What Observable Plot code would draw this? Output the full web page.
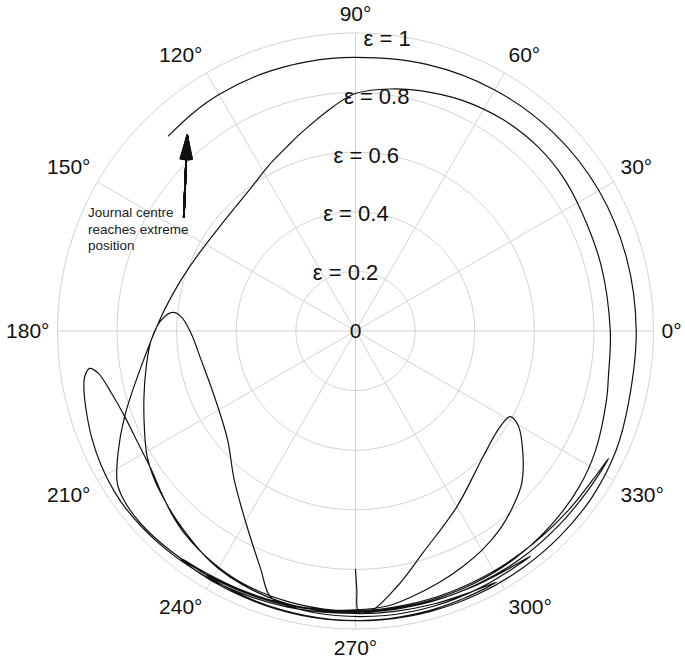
<!DOCTYPE html>
<html>
<head>
<meta charset="utf-8">
<script src="https://cdn.jsdelivr.net/npm/d3@7"></script>
<script src="https://cdn.jsdelivr.net/npm/@observablehq/plot@0.6"></script>
<style>
  html, body { margin: 0; padding: 0; background: #fff; }
  #chart svg { display: block; }
</style>
</head>
<body>
<div id="chart"></div>
<script>
// ---- Data ----
// Journal centre orbit: attitude angle (degrees) and eccentricity ratio
const orbitTheta = [
  270, 270.3, 270.6,
  273.1, 279.3, 287.0, 300.1, 315.4, 326.5, 331.0, 330.0, 326.2, 317.7, 311.9, 306.1, 300.3, 294.6, 288.6, 282.3, 276.6,
  270, 262, 254, 246, 238, 232.4,
  236, 244, 254, 264, 274, 284, 292, 299.4,
  294, 286, 278, 270, 262, 254, 246, 240, 235.3,
  230.0, 226.4, 223.0, 216.5, 211.0, 205.1, 197.2, 189.6, 182.5, 176.8, 174.2, 175.3, 180.8, 190.6, 204.9, 220.3, 230.9, 241.5, 248.3, 252.3,
  258, 266, 276, 286, 296, 303, 307.9,
  302, 294, 286, 276, 266, 256, 246, 236, 226, 218.2,
  213.5, 207.7, 202.1, 196.8, 192.1, 189.5, 188.0, 189.3, 194.3, 200.3, 207.2, 214.1, 219.8, 224.6, 230.0, 238.0, 246.0,
  256, 266, 276, 286, 296, 306, 316, 326, 333.3,
  328, 320, 310, 300, 290, 280, 270, 260, 250, 240, 230, 222, 216,
  212.5, 207.2, 200.3, 189.4, 176.3, 165.7, 158, 151.2, 142, 133.5, 125, 117.7, 110, 104.4, 95.5, 90, 82, 75, 65, 55, 45, 36.5, 28, 15, 0,
  -10, -15.6, -26.6, -35, -45, -55, -65, -75, -85, -95, -105, -115, -121.6,
  -115, -105, -95, -85, -75, -65, -55, -45, -35, -24.6, -14.4,
  0, 15, 30, 45, 60, 75, 90, 100, 110, 120, 127, 133.8
];
const orbitEps = [
  0.80, 0.87, 0.94,
  0.941, 0.868, 0.777, 0.680, 0.601, 0.582, 0.593, 0.629, 0.672, 0.755, 0.791, 0.823, 0.848, 0.868, 0.889, 0.910, 0.929,
  0.936, 0.942, 0.946, 0.950, 0.955, 0.962,
  0.966, 0.968, 0.970, 0.972, 0.972, 0.970, 0.968, 0.967,
  0.958, 0.953, 0.950, 0.948, 0.946, 0.942, 0.932, 0.920, 0.905,
  0.885, 0.873, 0.861, 0.839, 0.816, 0.782, 0.743, 0.712, 0.686, 0.653, 0.616, 0.587, 0.552, 0.527, 0.522, 0.563, 0.645, 0.757, 0.860, 0.937,
  0.952, 0.957, 0.960, 0.960, 0.958, 0.956, 0.957,
  0.948, 0.944, 0.942, 0.944, 0.948, 0.954, 0.960, 0.966, 0.972, 0.974,
  0.972, 0.965, 0.955, 0.943, 0.932, 0.921, 0.901, 0.875, 0.845, 0.826, 0.821, 0.828, 0.848, 0.869, 0.890, 0.912, 0.928,
  0.936, 0.940, 0.942, 0.943, 0.943, 0.944, 0.944, 0.946, 0.951,
  0.940, 0.934, 0.930, 0.930, 0.932, 0.935, 0.940, 0.946, 0.952, 0.958, 0.964, 0.968, 0.962,
  0.948, 0.896, 0.826, 0.729, 0.656, 0.616, 0.595, 0.582, 0.575, 0.580, 0.598, 0.627, 0.662, 0.695, 0.758, 0.797, 0.820, 0.835, 0.853, 0.865, 0.870, 0.867, 0.858, 0.853, 0.855,
  0.862, 0.874, 0.900, 0.915, 0.925, 0.932, 0.936, 0.938, 0.940, 0.944, 0.948, 0.952, 0.959,
  0.964, 0.968, 0.971, 0.973, 0.974, 0.974, 0.973, 0.972, 0.970, 0.962, 0.947,
  0.942, 0.942, 0.943, 0.940, 0.934, 0.926, 0.918, 0.918, 0.918, 0.916, 0.912, 0.907
];

// Radial grid (eccentricity rings) and their labels
const ringValues = [0.2, 0.4, 0.6, 0.8, 1.0];
const ringLabels = ["ε = 0.2", "ε = 0.4", "ε = 0.6", "ε = 0.8", "ε = 1"];

// Angular grid (spokes) and their labels
const spokeAngles = [0, 30, 60, 90, 120, 150, 180, 210, 240, 270, 300, 330];
const angleLabels = ["0°", "30°", "60°", "90°", "120°", "150°", "180°", "210°", "240°", "270°", "300°", "330°"];

const centreLabel = "0";
const annotationLines = ["Journal centre", "reaches extreme", "position"];

// ---- Layout ----
const W = 685, H = 664, CX = 355, CY = 330.5, R = 298;
const rad = d => d * Math.PI / 180;
const FONT = "'Liberation Sans', Arial, Helvetica, sans-serif";
const gridColor = "#d3d3d3";

const ctx = document.createElement("canvas").getContext("2d");
ctx.font = `21px ${FONT}`;
const textW = s => ctx.measureText(s).width;
const sgn = v => Math.abs(v) < 1e-6 ? 0 : Math.sign(v);
const R1 = 306, halfH = 11;

const orbit = orbitTheta.map((t, i) => ({t, e: orbitEps[i]}));
const ringPts = ringValues.flatMap(v => d3.range(0, 361, 2).map(a => ({v, a})));
const angleLab = spokeAngles.map((a, i) => {
  const c = Math.cos(rad(a)), s = Math.sin(rad(a));
  const w = textW(angleLabels[i]);
  return {
    label: angleLabels[i],
    x: (R1 * c + sgn(c) * w / 2) / R,
    y: (R1 * s + sgn(s) * halfH) / R
  };
});

// annotation arrow (tail beside the text, tip at the end of the orbit)
const arrowFrom = {x: (183.3 - CX) / R, y: (CY - 216.7) / R};
const arrowTo = {x: (186.7 - CX) / R, y: (CY - 135) / R};
const headAngles = d3.range(1, 30, 2.5);

const chart = Plot.plot({
  width: W,
  height: H,
  margin: 0,
  style: {background: "#fff", fontFamily: FONT},
  x: {domain: [-CX / R, (W - CX) / R], range: [0, W], axis: null},
  y: {domain: [-(H - CY) / R, CY / R], range: [H, 0], axis: null},
  marks: [
    // grid
    Plot.line(ringPts, {
      x: d => d.v * Math.cos(rad(d.a)),
      y: d => d.v * Math.sin(rad(d.a)),
      z: "v", stroke: gridColor, strokeWidth: 1
    }),
    Plot.link(spokeAngles, {
      x1: () => 0, y1: () => 0,
      x2: a => Math.cos(rad(a)), y2: a => Math.sin(rad(a)),
      stroke: gridColor, strokeWidth: 1
    }),
    // ring labels
    Plot.text(ringValues, {
      x: v => (-20.4 + 52 * v) / R,
      y: v => 0.98 * v,
      text: (v, i) => ringLabels[i],
      fontSize: 22, fill: "#111", textAnchor: "middle", lineAnchor: "middle", fontFamily: FONT
    }),
    Plot.text([centreLabel], {
      x: () => 0, y: () => 0, text: d => d,
      fontSize: 21, fill: "#111", textAnchor: "middle", lineAnchor: "middle", fontFamily: FONT
    }),
    // angle labels
    Plot.text(angleLab, {
      x: "x", y: "y", text: "label",
      fontSize: 21, fill: "#111", textAnchor: "middle", lineAnchor: "middle", fontFamily: FONT
    }),
    // orbit
    Plot.line(orbit, {
      x: d => d.e * Math.cos(rad(d.t)),
      y: d => d.e * Math.sin(rad(d.t)),
      stroke: "#111", strokeWidth: 1.2, curve: "catmull-rom"
    }),
    // annotation
    Plot.text(annotationLines, {
      x: () => (87.5 - CX) / R,
      y: (d, i) => (CY - (212.5 + 16.4 * i)) / R,
      text: d => d,
      fontSize: 13.5, fill: "#222", textAnchor: "start", lineAnchor: "middle", fontFamily: FONT
    }),
    ...headAngles.map(h => Plot.arrow([arrowFrom], {
      x1: d => d.x, y1: d => d.y,
      x2: () => arrowTo.x, y2: () => arrowTo.y,
      stroke: "#111", strokeWidth: 1.8, headLength: 20, headAngle: h
    }))
  ]
});

document.getElementById("chart").appendChild(chart);
</script>
</body>
</html>
